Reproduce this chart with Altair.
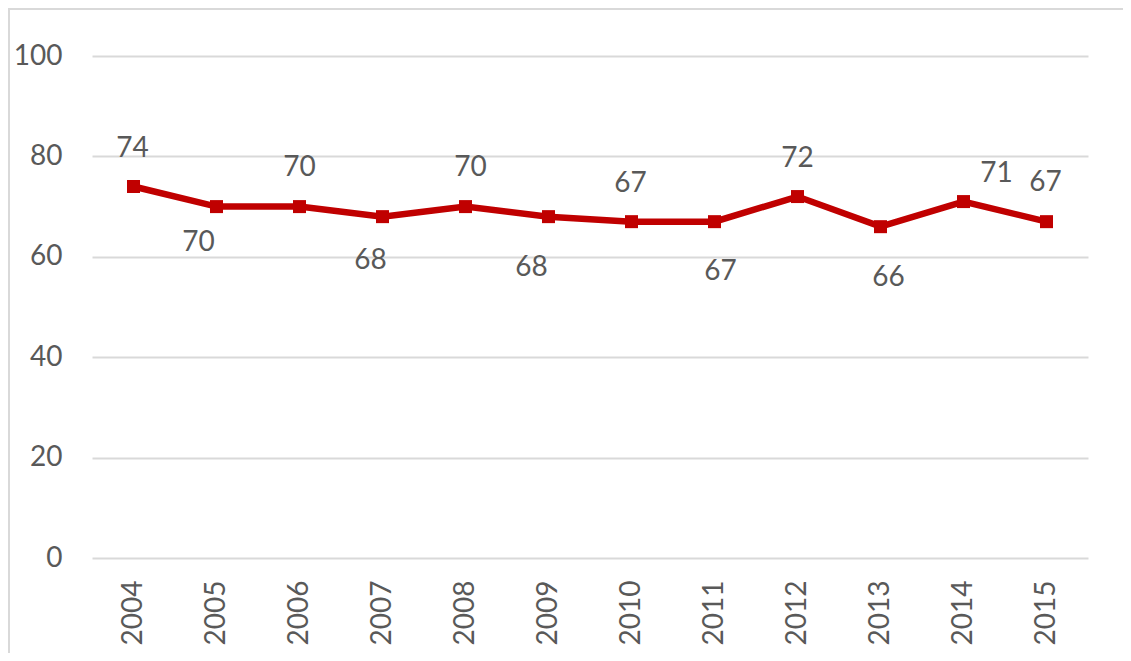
import altair as alt
import pandas as pd

years = ["2004", "2005", "2006", "2007", "2008", "2009", "2010", "2011", "2012", "2013", "2014", "2015"]
values = [74, 70, 70, 68, 70, 68, 67, 67, 72, 66, 71, 67]
y_ticks = [0, 20, 40, 60, 80, 100]

# label placement offsets (pixels) relative to each point
label_dx = [-1, -18, 0, -12, 5, -17, -1, 6, 0, 8, 33, -1]
label_dy = [-38, 36, -39, 44, -39, 51, -38, 50, -38, 51, -28, -39]

df = pd.DataFrame({"year": years, "value": values})

FONT = "Lato"
TXT = "#595959"
RED = "#C00000"
GRID = "#D9D9D9"

x_enc = alt.X(
    "year:O",
    sort=years,
    scale=alt.Scale(type="point", padding=0.5),
    axis=alt.Axis(
        title=None, labelAngle=270, labelFont=FONT, labelFontSize=28,
        labelColor=TXT, labelPadding=22, ticks=False, domain=False, grid=False,
    ),
)
y_enc = alt.Y(
    "value:Q",
    scale=alt.Scale(domain=[0, 100], nice=False),
    axis=alt.Axis(
        values=y_ticks, title=None, labelFont=FONT, labelFontSize=28,
        labelColor=TXT, labelPadding=30, ticks=False, domain=False,
        gridColor=GRID, gridWidth=2,
    ),
)

base = alt.Chart(df)

line = base.mark_line(color=RED, strokeWidth=6.5).encode(x=x_enc, y=y_enc)
points = base.mark_point(shape="square", size=169, filled=True, color=RED, opacity=1).encode(x=x_enc, y=y_enc)

texts = []
for i, yr in enumerate(years):
    texts.append(
        base.transform_filter(alt.datum.year == yr)
        .mark_text(font=FONT, fontSize=28, color=TXT, align="center", baseline="middle",
                   dx=label_dx[i], dy=label_dy[i])
        .encode(x=x_enc, y=y_enc, text="value:Q")
    )

border_top = alt.Chart(df).mark_rule(color=GRID, strokeWidth=2).encode(
    x=alt.value(-84), x2=alt.value(1040), y=alt.value(-47)
)
border_left = alt.Chart(df).mark_rule(color=GRID, strokeWidth=2).encode(
    x=alt.value(-83), y=alt.value(-48), y2=alt.value(600)
)

chart = (
    alt.layer(border_top, border_left, line, points, *texts)
    .properties(
        width=996, height=502,
        autosize=alt.AutoSizeParams(type="none"),
        padding={"left": 84, "top": 48, "right": 35, "bottom": 95},
        background="white",
    )
    .configure_view(stroke=None)
)

chart.save("out.html", embed_options={"renderer": "svg", "actions": False})
